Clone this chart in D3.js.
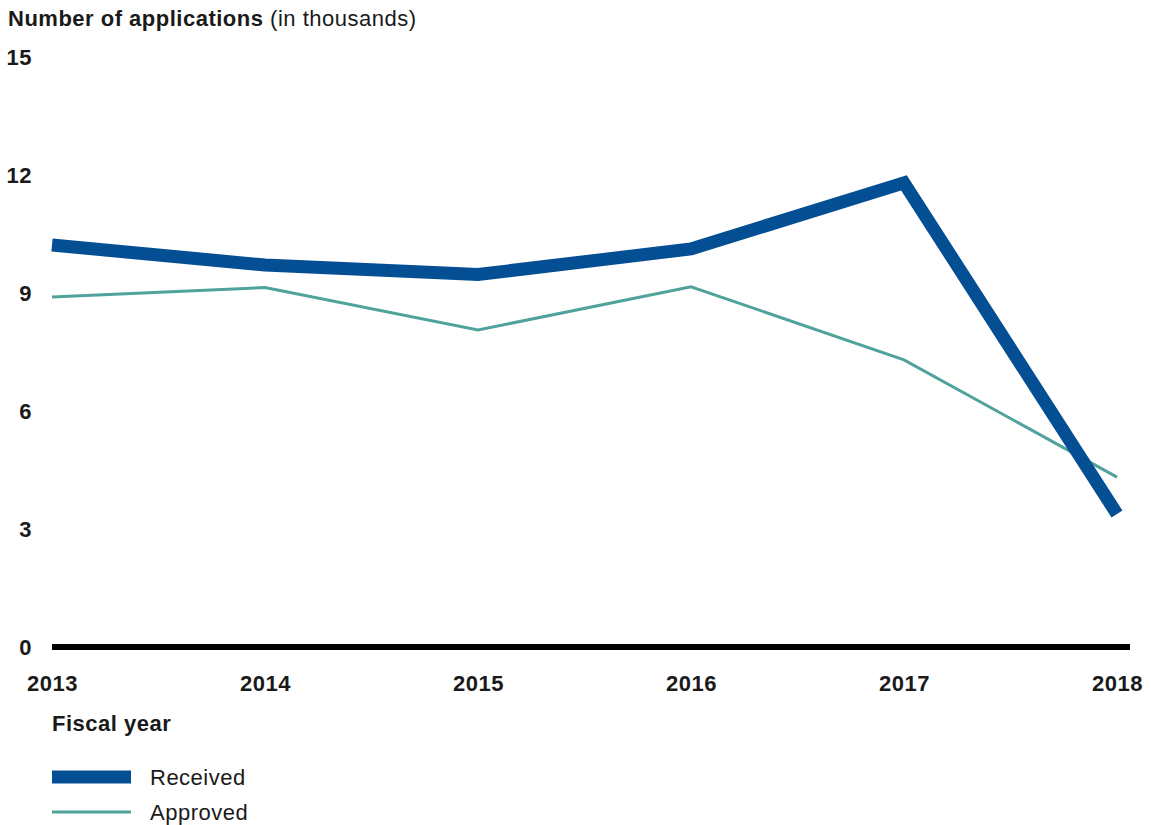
<!DOCTYPE html>
<html>
<head>
<meta charset="utf-8">
<script src="https://cdn.jsdelivr.net/npm/d3@7"></script>
<style>
  body { margin: 0; background: #fff; }
  text { font-family: "Liberation Sans", Arial, sans-serif; fill: #1a1a1a; letter-spacing: 0.5px; }
</style>
</head>
<body>
<div id="chart"></div>
<script>
// Data
var years = [2013, 2014, 2015, 2016, 2017, 2018];
var received = [10.22, 9.71, 9.47, 10.12, 11.80, 3.38];
var approved = [8.90, 9.14, 8.06, 9.16, 7.30, 4.32];
var yTicks = [0, 3, 6, 9, 12, 15];

var width = 1151;
var height = 825;
var blue = '#044f94';
var teal = '#4fa39b';

var svg = d3.select('#chart')
  .append('svg')
  .attr('width', width)
  .attr('height', height);

// Scales
var x = d3.scaleLinear()
  .domain([2013, 2018])
  .range([52, 1117]);
var y = d3.scaleLinear()
  .domain([0, 15])
  .range([647, 57]);

// Title
var title = svg.append('text')
  .attr('x', 8)
  .attr('y', 26)
  .attr('font-size', 22);
title.append('tspan').attr('font-weight', 'bold').text('Number of applications');
title.append('tspan').text(' (in thousands)');

// Y axis labels
var yAxis = d3.axisLeft(y)
  .tickValues(yTicks)
  .tickSize(0)
  .tickPadding(0)
  .tickFormat(d3.format('d'));
svg.append('g')
  .attr('transform', 'translate(32,0)')
  .call(yAxis)
  .call(function (g) { g.select('.domain').remove(); })
  .selectAll('text')
  .attr('font-size', 22)
  .attr('font-weight', 'bold')
  .attr('fill', '#1a1a1a')
  .attr('dy', '0.36em');

// Baseline
svg.append('line')
  .attr('x1', 52)
  .attr('x2', 1130)
  .attr('y1', y(0))
  .attr('y2', y(0))
  .attr('stroke', '#000')
  .attr('stroke-width', 6);

// X axis labels
var xAxis = d3.axisBottom(x)
  .tickValues(years)
  .tickSize(0)
  .tickPadding(0)
  .tickFormat(d3.format('d'));
svg.append('g')
  .attr('transform', 'translate(0,683)')
  .call(xAxis)
  .call(function (g) { g.select('.domain').remove(); })
  .selectAll('text')
  .attr('font-size', 22)
  .attr('font-weight', 'bold')
  .attr('fill', '#1a1a1a')
  .attr('dy', '0.36em');

svg.append('text')
  .attr('x', 52)
  .attr('y', 723)
  .attr('dy', '0.36em')
  .attr('font-size', 22)
  .attr('font-weight', 'bold')
  .text('Fiscal year');

// Lines
var line = d3.line()
  .x(function (d, i) { return x(years[i]); })
  .y(function (d) { return y(d); });

svg.append('path')
  .datum(approved)
  .attr('d', line)
  .attr('fill', 'none')
  .attr('stroke', teal)
  .attr('stroke-width', 3);

svg.append('path')
  .datum(received)
  .attr('d', line)
  .attr('fill', 'none')
  .attr('stroke', blue)
  .attr('stroke-width', 13)
  .attr('stroke-linejoin', 'miter');

// Legend
var legend = [
  { label: 'Received', color: blue, width: 13, y: 777 },
  { label: 'Approved', color: teal, width: 3, y: 812 }
];
var lg = svg.selectAll('.legend')
  .data(legend)
  .enter()
  .append('g')
  .attr('class', 'legend');
lg.append('line')
  .attr('x1', 52)
  .attr('x2', 131)
  .attr('y1', function (d) { return d.y; })
  .attr('y2', function (d) { return d.y; })
  .attr('stroke', function (d) { return d.color; })
  .attr('stroke-width', function (d) { return d.width; });
lg.append('text')
  .attr('x', 150)
  .attr('y', function (d) { return d.y; })
  .attr('dy', '0.36em')
  .attr('font-size', 22)
  .text(function (d) { return d.label; });
</script>
</body>
</html>
